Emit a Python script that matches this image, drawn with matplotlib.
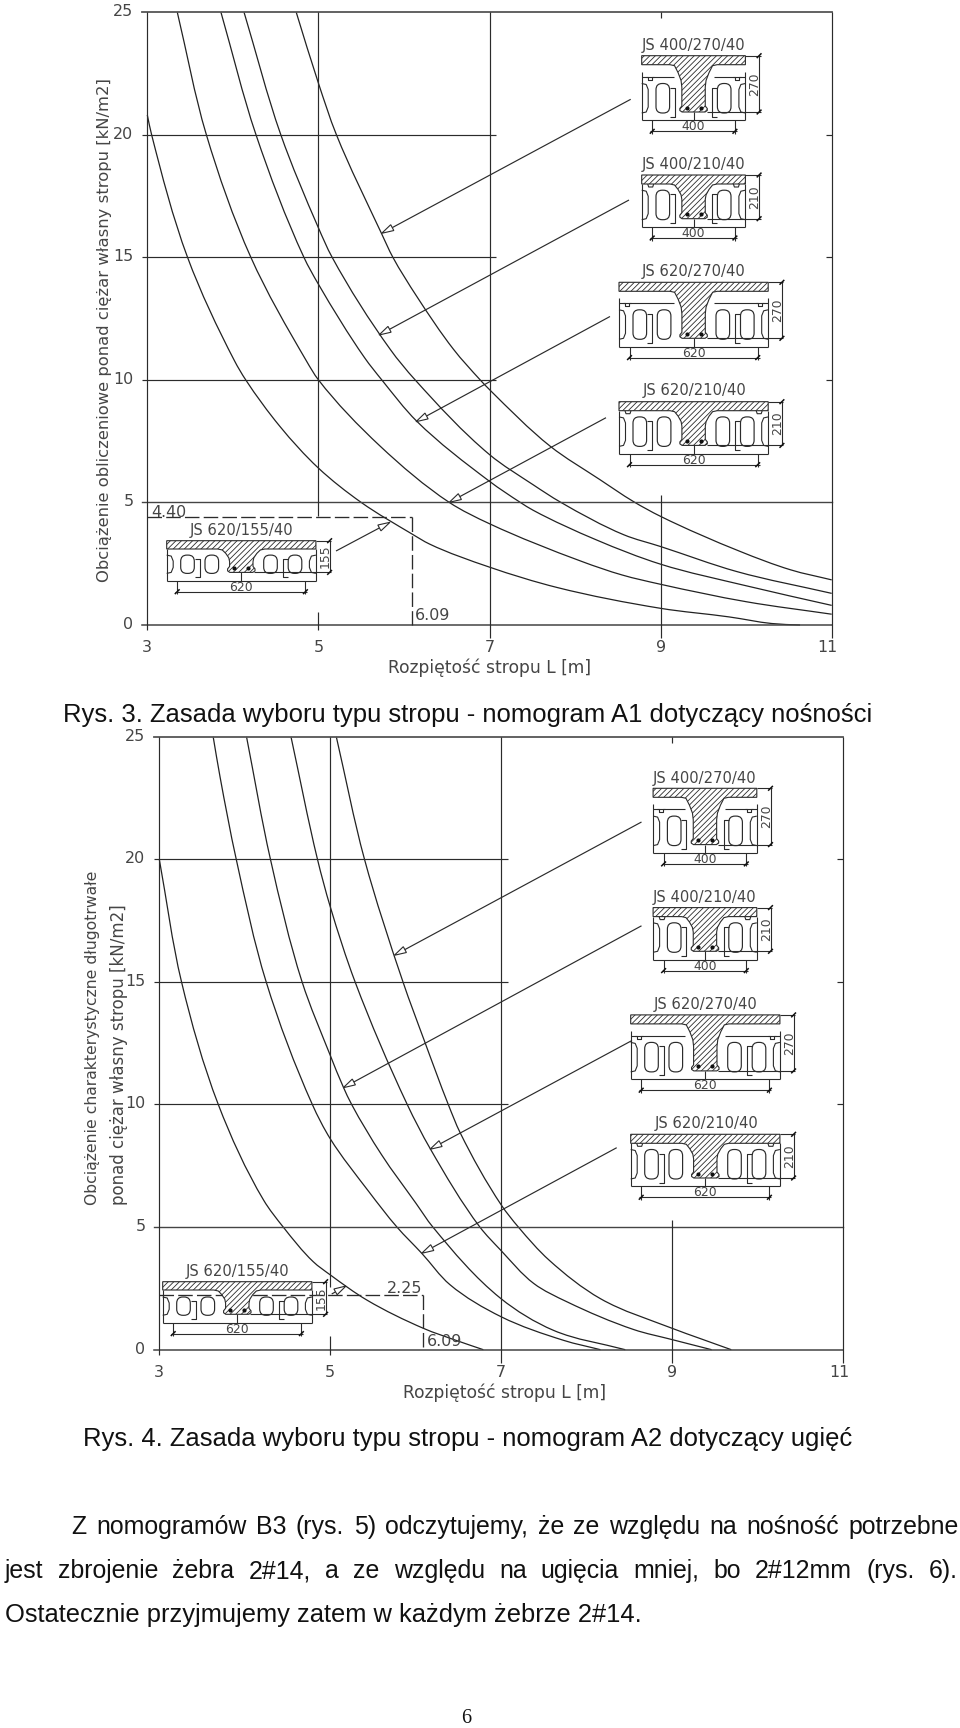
import numpy as np
import matplotlib
matplotlib.use("Agg")
import matplotlib.pyplot as plt
from matplotlib.path import Path
from matplotlib.patches import PathPatch, Polygon, FancyBboxPatch
from matplotlib.transforms import ScaledTranslation

plt.rcParams["hatch.linewidth"] = 0.6

# ---------- data ----------
x_ticks = [3, 5, 7, 9, 11]
y_ticks = [0, 5, 10, 15, 20, 25]
names = ["JS 620/155/40", "JS 620/210/40", "JS 620/270/40", "JS 400/210/40", "JS 400/270/40"]

A1_L_155 = [3, 3.05, 3.47, 4.02, 4.15, 4.55, 5, 5.5, 6.09, 6.3, 7, 7.79, 9, 9.8, 10.3, 10.63]
A1_q_155 = [20.8, 20, 15, 10.77, 10, 8.1, 6.4, 5, 3.72, 3.3, 2.36, 1.53, .68, .33, .06, 0]
A1_L_620_210 = [3.35, 3.69, 4.21, 4.86, 5, 5.72, 6.53, 7, 8.08, 8.55, 9, 10, 11]
A1_q_620_210 = [25, 20, 15, 10.77, 10, 7.3, 5, 4.13, 2.59, 2.04, 1.66, .95, .44]
A1_L_620_270 = [3.86, 4.27, 4.83, 5, 5.54, 5.74, 6.15, 7, 7.36, 7.51, 8.25, 9, 10, 11]
A1_q_620_270 = [25, 20, 15, 13.9, 10.9, 10, 8.31, 5.86, 5, 4.68, 3.47, 2.48, 1.6, .8]
A1_L_400_210 = [4.13, 4.56, 5, 5.16, 5.84, 6.13, 7, 7.51, 7.83, 8.57, 9, 9.89, 11]
A1_q_400_210 = [25, 20, 16.2, 15, 11.24, 10, 6.95, 5.72, 5.01, 3.68, 3.2, 2.18, 1.29]
A1_L_400_270 = [4.74, 5, 5.21, 5.74, 5.87, 6.15, 6.58, 6.89, 7, 7.71, 8.29, 8.68, 9, 9.93, 10.52, 11]
A1_q_400_270 = [25, 22.1, 20, 15.95, 15, 13.4, 11.24, 10, 9.6, 7.29, 5.93, 5.04, 4.43, 3, 2.25, 1.84]

A2_L_155 = [3, 3.26, 3.69, 4.22, 4.45, 4.8, 5, 5.43, 6.09, 6.48, 6.79]
A2_q_155 = [20, 15, 10, 6.1, 5, 3.59, 3.05, 2.02, .87, .37, 0]
A2_L_620_210 = [3.63, 3.71, 3.9, 4.25, 4.79, 5, 5.45, 5.78, 6.07, 6.4, 7, 7.73, 8.16]
A2_q_620_210 = [25, 23.37, 20, 15, 10, 8.6, 6.45, 5, 3.93, 2.65, 1.34, .38, 0]
A2_L_620_270 = [4.02, 4.3, 4.67, 5, 5.15, 5.25, 5.6, 6, 6.2, 6.99, 7.61, 8.45]
A2_q_620_270 = [25, 20, 15, 12, 10.73, 10, 7.95, 5.98, 5, 2.1, .79, 0]
A2_L_400_210 = [4.54, 4.85, 5, 5.29, 5.9, 6.17, 6.75, 6.99, 7.38, 7.77, 8.55, 9, 9.46]
A2_q_400_210 = [25, 20, 18.06, 15, 10, 8.19, 5, 4.07, 2.7, 1.95, .82, .41, 0]
A2_L_400_270 = [5.07, 5.4, 5.85, 6.1, 6.38, 6.52, 7, 7.2, 7.56, 8.16, 9, 9.33, 9.69]
A2_q_400_270 = [25, 20, 15, 12.6, 10, 8.84, 5.9, 5, 3.65, 2.08, .87, .45, 0]

A1_read = (6.09, 4.40)
A2_read = (6.09, 2.25)

# ---------- style ----------
INK = "#2b2b2b"
CAD = "#454545"
LW = 0.85
CADFONT = "DejaVu Sans"

fig = plt.figure(figsize=(9.6, 17.28), dpi=100, facecolor="white")
over = fig.add_axes([0, 0, 1, 1], zorder=5)
over.set_xlim(0, 960); over.set_ylim(1728, 0); over.axis("off")
over.patch.set_alpha(0)


def smooth_path(L, q):
    """Bezier through the read points; tangent bisects the neighbouring chords."""
    p = np.column_stack([L, q]).astype(float)
    s = np.array([85.5, 24.5])
    P = p * s
    n = len(P)
    T = np.zeros_like(P)
    for i in range(n):
        d = np.zeros(2)
        if i > 0:
            c = P[i] - P[i - 1]
            d += c / np.hypot(*c)
        if i < n - 1:
            c = P[i + 1] - P[i]
            d += c / np.hypot(*c)
        T[i] = d / np.hypot(*d)
    verts = [p[0]]
    codes = [Path.MOVETO]
    for i in range(n - 1):
        c = np.hypot(*(P[i + 1] - P[i])) / 3
        verts += [(P[i] + T[i] * c) / s, (P[i + 1] - T[i + 1] * c) / s, p[i + 1]]
        codes += [Path.CURVE4] * 3
    return Path(verts, codes)


def nomogram(x3, x11, y25, y0, curves, read, xlabel_xy, pad_y=10.0, pad_x=11.0):
    ax = fig.add_axes([x3 / 960, 1 - y0 / 1728, (x11 - x3) / 960, (y0 - y25) / 1728], zorder=1)
    ax.set_xlim(3, 11); ax.set_ylim(0, 25)
    for s in ax.spines.values():
        s.set_visible(False)
    ax.patch.set_alpha(0)
    kw = dict(color=INK, lw=LW, clip_on=False, solid_capstyle="butt")
    # horizontal rules
    ax.plot([2.94, 11], [25, 25], color="#555555", lw=1.3, clip_on=False)
    ax.plot([2.94, 11], [0, 0], color="#444444", lw=1.1, clip_on=False)
    ax.plot([2.94, 11], [5, 5], color="#444444", lw=1.0, clip_on=False)
    for v in (10, 15, 20):
        ax.plot([2.94, 7.08], [v, v], **kw)
        ax.plot([10.93, 11], [v, v], **kw)
    # vertical rules
    ax.plot([3, 3], [-0.2, 25], **kw)
    ax.plot([11, 11], [-0.55, 25], **kw)
    ax.plot([7, 7], [-0.55, 25], **kw)
    ax.plot([5, 5], [read[1] + 0.3 if read[1] < 3 else 4.45, 25], **kw)
    ax.plot([5, 5], [-0.2, 0.55], **kw)
    ax.plot([9, 9], [-0.55, 5.3], **kw)
    ax.plot([9, 9], [24.75, 25], **kw)
    # curves
    for L, q in curves:
        ax.add_patch(PathPatch(smooth_path(L, q), fc="none", ec="#222222", lw=0.9, clip_on=False))
    # dashed reading
    dash = dict(color=INK, lw=0.95, clip_on=False, dashes=(11, 3.2))
    ax.plot([3, read[0]], [read[1], read[1]], **dash)
    ax.plot([read[0], read[0]], [read[1], 0], **dash)
    # ticks
    ax.set_xticks(x_ticks); ax.set_yticks(y_ticks)
    ax.tick_params(length=0, labelsize=11.4, labelcolor=CAD)
    ax.tick_params(axis="x", pad=pad_x)
    ax.tick_params(axis="y", pad=pad_y)
    for t in ax.get_xticklabels():
        t.set_fontfamily(CADFONT)
        if t.get_text() == "11":
            t.set_transform(t.get_transform() + ScaledTranslation(-3 / 72, 0, fig.dpi_scale_trans))
    for t in ax.get_yticklabels():
        t.set_fontfamily(CADFONT)
        t.set_transform(t.get_transform() + ScaledTranslation(0, 1.5 / 72, fig.dpi_scale_trans))
    over.text(xlabel_xy[0], xlabel_xy[1], "Rozpiętość stropu L [m]", fontsize=12.3, color=CAD,
              family=CADFONT, va="center", ha="left")
    return ax


def cad_text(x, y, s, size=8.2, rot=0, ha="left", va="baseline"):
    over.text(x, y, s, fontsize=size, color=CAD, family=CADFONT, rotation=rot, ha=ha, va=va,
              rotation_mode="anchor")


def arrow(start, tip):
    s, t = np.array(start, float), np.array(tip, float)
    u = (s - t) / np.hypot(*(s - t))
    n = np.array([-u[1], u[0]])
    over.plot([s[0], t[0] + u[0] * 12], [s[1], t[1] + u[1] * 12], color=INK, lw=LW, solid_capstyle="butt")
    over.add_patch(Polygon([t, t + u * 12 + n * 3.3, t + u * 12 - n * 3.3], closed=True,
                           fc="white", ec=INK, lw=0.8, zorder=4))


def tick45(x, y):
    over.plot([x - 2.4, x + 2.4], [y + 2.4, y - 2.4], color="#111111", lw=1.1, solid_capstyle="butt")


def section(x0, y0, kind, H, title, dim_h, dim_w):
    """One ribbed slab cross-section, drawn in page pixels."""
    W = 149.2 if kind == 620 else 103.7
    xc = x0 + W / 2
    fl = 9.0 if H > 40 else 8.3
    line = dict(color=INK, lw=0.8, solid_capstyle="butt")
    Y = lambda v: y0 + v
    sh = H * 0.56 if H > 40 else H * 0.66
    flare = [(23.5, fl), (19, fl + 1), (15.5, fl + (sh - fl) * 0.35), (12.5, fl + (sh - fl) * 0.7), (11.7, sh)]
    foot = [(11.7, H - 6), (13.7, H - 3.5), (13.7, H - 1.5), (11.5, H)]
    right = [(a, b) for a, b in flare + foot]
    left = [(-a, b) for a, b in reversed(right)]
    verts = [(x0, Y(0)), (x0 + W, Y(0)), (x0 + W, Y(fl))]
    verts += [(xc + a, Y(b)) for a, b in right]
    verts += [(xc + a, Y(b)) for a, b in left]
    verts += [(x0, Y(fl))]
    over.add_patch(Polygon(verts, closed=True, fc="white", ec=INK, lw=0.8, hatch="//////", zorder=3))
    # block outline
    side_top = 16 if H > 50 else fl
    over.plot([x0, x0], [Y(side_top), Y(H + 8.3)], **line)
    over.plot([x0 + W, x0 + W], [Y(side_top), Y(H + 8.3)], **line)
    over.plot([x0, x0 + W], [Y(H + 8.3), Y(H + 8.3)], **line)
    over.plot([xc, xc], [Y(H), Y(H + 8.3)], **line)
    if H > 50:
        over.plot([x0, xc - 20], [Y(21), Y(21)], **line)
        over.plot([xc + 20, x0 + W], [Y(21), Y(21)], **line)
        for hx in (x0 + 8, x0 + W - 8):
            over.plot([hx - 4, hx - 2, hx - 2, hx + 2, hx + 2, hx + 4],
                      [Y(21), Y(21), Y(24), Y(24), Y(21), Y(21)], **line)
    elif H > 40:
        for hx in (x0 + 9, x0 + W - 9):
            over.plot([hx - 3, hx - 2, hx + 2, hx + 3], [Y(fl), Y(fl + 3), Y(fl + 3), Y(fl)], **line)
    # voids
    h = 18.3 if H < 40 else 29.5
    top, botv = H + 1 - h, H + 1
    holes = [14.0, 38.3, 97.0, 121.5] if kind == 620 else [14.3, 75.7]
    for hx in holes:
        over.add_patch(FancyBboxPatch((x0 + hx, Y(top)), 13.6, h,
                                      boxstyle="round,pad=0,rounding_size=6.2",
                                      fc="none", ec=INK, lw=0.85, zorder=3))
    hw = 6.5
    for sgn, ex in ((1, x0), (-1, x0 + W)):
        over.plot([ex, ex + sgn * 4.5, ex + sgn * hw, ex + sgn * hw, ex + sgn * 4.5, ex],
                  [Y(top), Y(top + 1), Y(top + 6), Y(botv - 6), Y(botv - 1), Y(botv)], **line)
    # brackets
    bl = x0 + 33.3
    br = x0 + W - 33.0
    b_top = max(top + 4, fl + 4)
    over.plot([bl - 5, bl, bl, bl - 5], [Y(b_top), Y(b_top), Y(H + 4.5), Y(H + 4.5)], **line)
    over.plot([br + 5, br, br, br + 5], [Y(b_top), Y(b_top), Y(H + 4.5), Y(H + 4.5)], **line)
    # bars
    over.scatter([xc - 7, xc + 7], [Y(H - 4.5)] * 2, s=9, c="#111111", zorder=4, linewidths=0)
    # height dimension
    dx = x0 + W + 13.7
    over.plot([x0 + W, dx + 1.5], [Y(0), Y(0)], **line)
    over.plot([xc + 13, dx + 1.5], [Y(H), Y(H)], **line)
    over.plot([dx, dx], [Y(0), Y(H)], **line)
    tick45(dx, Y(0)); tick45(dx, Y(H))
    cad_text(x0 + W + 9.6, Y(H / 2), str(dim_h), size=8.9, rot=90, ha="center", va="center")
    # width dimension
    yd = Y(H + 8.3 + 11)
    over.plot([x0 + 10.5, x0 + 10.5], [Y(H + 8.3), yd + 2.5], **line)
    over.plot([x0 + W - 10.5, x0 + W - 10.5], [Y(H + 8.3), yd + 2.5], **line)
    over.plot([x0 + 8.5, x0 + W - 8.5], [yd, yd], **line)
    tick45(x0 + 10.5, yd); tick45(x0 + W - 10.5, yd)
    cad_text(xc, yd - 4.5, str(dim_w), size=8.9, ha="center", va="center")
    cad_text(title[0], title[1], title[2], size=10.6)


# ---------- nomogram A1 ----------
nomogram(147.3, 831.7, 12, 625,
         [(A1_L_155, A1_q_155), (A1_L_620_210, A1_q_620_210), (A1_L_620_270, A1_q_620_270),
          (A1_L_400_210, A1_q_400_210), (A1_L_400_270, A1_q_400_270)],
         A1_read, (387.5, 668))
over.text(105, 581.7, "Obciążenie obliczeniowe ponad ciężar własny stropu [kN/m2]", rotation=90,
          fontsize=11.75, color=CAD, family=CADFONT, ha="center", va="bottom")
cad_text(151.7, 517, "4.40", size=11.4)
cad_text(415, 620, "6.09", size=11.4)
arrow((630.7, 99.3), (381.7, 233.3))
arrow((629, 200), (379, 335))
arrow((610, 316.5), (416, 421.7))
arrow((606, 417.7), (449.3, 502.3))
arrow((336, 551), (390, 522.3))
section(641.7, 55.7, 400, 56.3, (641.7, 50, names[4]), 270, 400)
section(641.7, 175.0, 400, 43.7, (641.7, 169.3, names[3]), 210, 400)
section(619.0, 282.3, 620, 56.0, (641.7, 276, names[2]), 270, 620)
section(619.0, 401.7, 620, 43.7, (642.3, 395, names[1]), 210, 620)
section(166.7, 540.7, 620, 31.7, (189.3, 535, names[0]), 155, 620)

# ---------- nomogram A2 ----------
nomogram(159.3, 843.3, 736.7, 1349.7,
         [(A2_L_155, A2_q_155), (A2_L_620_210, A2_q_620_210), (A2_L_620_270, A2_q_620_270),
          (A2_L_400_210, A2_q_400_210), (A2_L_400_270, A2_q_400_270)],
         A2_read, (402.7, 1393))
over.text(93, 1205, "Obciążenie charakterystyczne długotrwałe", rotation=90, fontsize=11.25, color=CAD,
          family=CADFONT, ha="center", va="bottom")
over.text(119, 1205, "ponad ciężar własny stropu [kN/m2]", rotation=90, fontsize=12.0, color=CAD,
          family=CADFONT, ha="center", va="bottom")
cad_text(387.3, 1293, "2.25", size=11.4)
cad_text(427.3, 1346, "6.09", size=11.4)
arrow((641.5, 822), (394.3, 955.3))
arrow((641.5, 925.8), (343.3, 1087.7))
arrow((632, 1040.5), (430, 1149.3))
arrow((616.7, 1147.7), (421.7, 1253.3))
arrow((331.7, 1294), (346, 1286))
d = 732.6
section(653.1, 55.7 + d, 400, 56.3, (653.1, 50 + d, names[4]), 270, 400)
section(653.1, 175.0 + d, 400, 43.7, (653.1, 169.3 + d, names[3]), 210, 400)
section(630.7, 282.3 + d, 620, 56.0, (653.7, 276 + d, names[2]), 270, 620)
section(630.7, 401.7 + d, 620, 43.7, (654.3, 395 + d, names[1]), 210, 620)
section(162.7, 1281.7, 620, 32.6, (186, 1276, names[0]), 155, 620)

# ---------- page text ----------
BODY = "Liberation Sans"
rend = fig.canvas.get_renderer()


def fitted(x, base, s, width, size=15.4):
    t = over.text(x, base, s, fontsize=size, family=BODY, color="#111111", va="baseline", ha="left")
    w = t.get_window_extent(rend).width
    t.set_fontsize(size * width / w)
    return t


def justified(x0, x1, base, s, size):
    words = s.split(" ")
    ts = [over.text(0, base, w, fontsize=size, family=BODY, color="#111111", va="baseline", ha="left") for w in words]
    ws = [t.get_window_extent(rend).width for t in ts]
    gap = (x1 - x0 - sum(ws)) / (len(words) - 1)
    x = x0
    for t, w in zip(ts, ws):
        t.set_x(x)
        x += w + gap


fitted(63, 722, "Rys. 3. Zasada wyboru typu stropu - nomogram A1 dotyczący nośności", 808)
fitted(83, 1446, "Rys. 4. Zasada wyboru typu stropu - nomogram A2 dotyczący ugięć", 768)
justified(71.5, 959, 1534, "Z nomogramów B3 (rys. 5) odczytujemy, że ze względu na nośność potrzebne", 17.9)
justified(5, 958, 1578, "jest zbrojenie żebra 2#14, a ze względu na ugięcia mniej, bo 2#12mm (rys. 6).", 17.9)
fitted(5, 1622, "Ostatecznie przyjmujemy zatem w każdym żebrze 2#14.", 636)
over.text(466, 1723, "6", fontsize=14.5, family="Liberation Serif", color="#111111", va="baseline", ha="center")

fig.savefig("out.png", dpi=100, facecolor="white")
